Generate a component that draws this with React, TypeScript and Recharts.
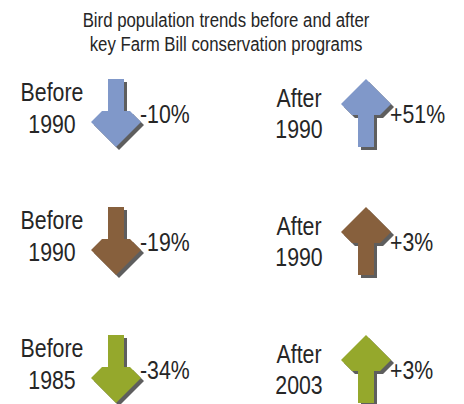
import { ScatterChart, Scatter, XAxis, YAxis } from 'recharts';

// one row per bird group (arrow colour), two columns: before / after the programs
const rowColors = ['#8098c9', '#87603d', '#95a82c'];
const periodWords = ['Before', 'After'];
const beforeYears = ['1990', '1990', '1985'];
const afterYears = ['1990', '1990', '2003'];
const beforeChange = [-10, -19, -34];
const afterChange = [51, 3, 3];

// no condensed face installed, so squeeze Liberation Sans horizontally
const FONT = "'Liberation Sans', Arial, sans-serif";
const SQUEEZE = 0.82;
const TEXT = '#262626';

// up-pointing arrow around its centre; flipped for declines
const arrowShape: [number, number][] = [
  [0, -34],
  [25, -9],
  [14, 2],
  [8, 2],
  [8, 34],
  [-8, 34],
  [-8, 2],
  [-14, 2],
  [-25, -9],
];

// label offsets per column: [x, first line baseline, second line baseline]
const labelOffsets = [
  [-64, -12, 20],
  [-67, -6, 25],
];

const points = rowColors.flatMap((color, i) => [
  { col: 0, row: i, change: beforeChange[i], year: beforeYears[i], color },
  { col: 1, row: i, change: afterChange[i], year: afterYears[i], color },
]);

function fmtChange(v: number) {
  return v > 0 ? `+${v}%` : `-${Math.abs(v)}%`;
}

function NarrowText({ x, y, anchor, children }: any) {
  return (
    <text
      transform={`translate(${x},${y}) scale(${SQUEEZE},1)`}
      textAnchor={anchor}
      fontFamily={FONT}
      fontSize={26}
      fill={TEXT}
    >
      {children}
    </text>
  );
}

function ArrowMark(props: any) {
  const { cx, cy, payload } = props;
  if (cx == null || cy == null) return null;
  const dir = payload.change < 0 ? -1 : 1;
  const pts = arrowShape.map(([x, y]) => `${cx + x},${cy + y * dir}`).join(' ');
  const [lx, b1, b2] = labelOffsets[payload.col];
  return (
    <g>
      <polygon points={pts} fill="#5e5e5e" transform="translate(3,3)" />
      <polygon points={pts} fill={payload.color} />
      <NarrowText x={cx + lx} y={cy + b1} anchor="middle">
        {periodWords[payload.col]}
      </NarrowText>
      <NarrowText x={cx + lx} y={cy + b2} anchor="middle">
        {payload.year}
      </NarrowText>
      <NarrowText x={cx + 24} y={cy + 10} anchor="start">
        {fmtChange(payload.change)}
      </NarrowText>
    </g>
  );
}

export default function App() {
  return (
    <div style={{ position: 'absolute', left: 0, top: 0, width: 464, height: 404, background: '#fff' }}>
      <div
        style={{
          position: 'absolute',
          left: 0,
          top: 8,
          width: 452,
          textAlign: 'center',
          fontFamily: FONT,
          fontSize: 20,
          lineHeight: '24px',
          color: TEXT,
          transform: 'scaleX(0.84)',
          transformOrigin: '226px 0',
        }}
      >
        Bird population trends before and after
        <br />
        key Farm Bill conservation programs
      </div>
      <ScatterChart width={464} height={404} margin={{ top: 113, right: 98, bottom: 35, left: 116 }}>
        <XAxis type="number" dataKey="col" domain={[0, 1]} hide />
        <YAxis type="number" dataKey="row" domain={[0, 2]} reversed hide />
        <Scatter data={points} shape={ArrowMark} isAnimationActive={false} />
      </ScatterChart>
    </div>
  );
}
